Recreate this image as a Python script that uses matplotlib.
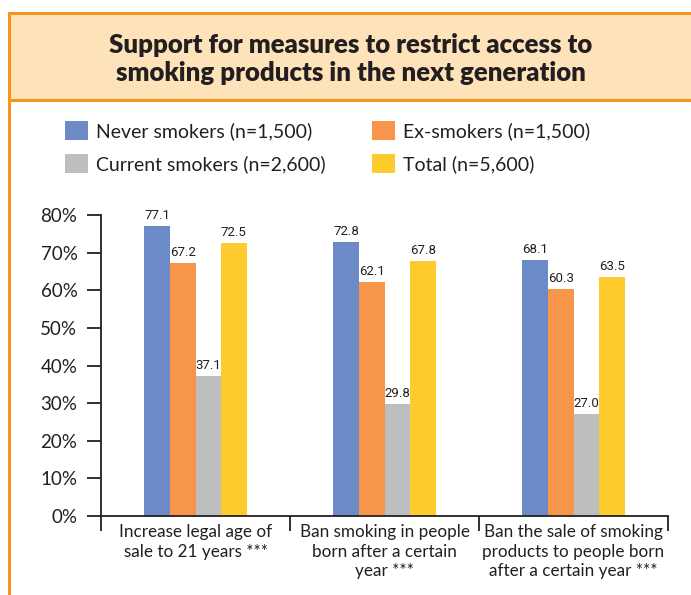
import matplotlib.pyplot as plt
from matplotlib.patches import Patch, Rectangle
import numpy as np

measures = ['Increase legal age of\nsale to 21 years ***',
            'Ban smoking in people\nborn after a certain\nyear ***',
            'Ban the sale of smoking\nproducts to people born\nafter a certain year ***']
groups = ['Never smokers (n=1,500)', 'Ex-smokers (n=1,500)',
          'Current smokers (n=2,600)', 'Total (n=5,600)']
never = [77.1, 72.8, 68.1]
ex = [67.2, 62.1, 60.3]
current = [37.1, 29.8, 27.0]
total = [72.5, 67.8, 63.5]
yticks = [0, 10, 20, 30, 40, 50, 60, 70, 80]

colors = ['#6c8ac6', '#f7964a', '#bcbec0', '#fdcb2e']
ink = '#231f20'
frame = '#f7941e'
band = '#fee3ba'

plt.rcParams['font.family'] = ['Lato', 'DejaVu Sans']
plt.rcParams['text.color'] = ink

W, H = 691, 595
fig = plt.figure(figsize=(W / 100, H / 100), dpi=100)

def px(x, y):
    # pixel position measured from the top-left corner -> figure fraction
    return x / W, 1 - y / H

# title band and orange frame
fig.add_artist(Rectangle(px(9, 100), (W - 9) / W + 0.01, 87 / H,
                         transform=fig.transFigure, facecolor=band,
                         edgecolor='none', zorder=0))
fig.add_artist(Rectangle(px(9, H + 20), 1.0, (H + 20 - 13) / H,
                         transform=fig.transFigure, facecolor='none',
                         edgecolor=frame, linewidth=2.2, zorder=1))
fig.add_artist(plt.Line2D([9 / W, 1.0], [1 - 100 / H] * 2,
                          transform=fig.transFigure, color=frame, linewidth=2.2))

fig.text(*px(351, 59), 'Support for measures to restrict access to\n'
         'smoking products in the next generation',
         ha='center', va='center', fontsize=18.5, fontweight='heavy',
         linespacing=1.17, color=ink)

ax = fig.add_axes([101 / W, 1 - 516 / H, (668 - 101) / W, (516 - 215) / H])

x = np.arange(len(measures))
width = 0.135
series = [never, ex, current, total]
for i, vals in enumerate(series):
    b = ax.bar(x + (i - 1.5) * width, vals, width, color=colors[i], zorder=2)
    for rect, v in zip(b, vals):
        ax.annotate(f'{v:.1f}', (rect.get_x() + rect.get_width() / 2, v),
                    xytext=(0, 3), textcoords='offset points',
                    ha='center', va='bottom', fontsize=9.5,
                    family=['Roboto', 'DejaVu Sans'], color=ink)

ax.set_xlim(-0.5, 2.5)
ax.set_ylim(0, 80)
ax.set_yticks(yticks)
ax.set_yticklabels([f'{t}%' for t in yticks], fontsize=13.5)
ax.tick_params(axis='y', length=10, width=1.3, pad=7, color=ink, labelcolor=ink)

# group boundaries carry the ticks, names sit between them
ax.set_xticks([-0.5, 0.5, 1.5, 2.5])
ax.set_xticklabels([])
ax.set_xticks(x, minor=True)
ax.set_xticklabels(measures, minor=True, fontsize=12.3, linespacing=1.25)
ax.tick_params(axis='x', which='major', length=11, width=1.3, color=ink)
ax.tick_params(axis='x', which='minor', length=0, pad=6, labelcolor=ink)

for side in ['top', 'right']:
    ax.spines[side].set_visible(False)
for side in ['left', 'bottom']:
    ax.spines[side].set_color(ink)
    ax.spines[side].set_linewidth(1.3)

handles = [Patch(facecolor=c) for c in colors]
for idx, xpos in [([0, 2], 65), ([1, 3], 372)]:
    fig.legend([handles[k] for k in idx], [groups[k] for k in idx],
               loc='upper left', bbox_to_anchor=px(xpos, 121),
               bbox_transform=fig.transFigure, frameon=False, fontsize=14,
               handlelength=1.2, handleheight=1.15, handletextpad=0.4,
               labelspacing=0.7, borderpad=0, borderaxespad=0)

fig.savefig('out.png', dpi=100)
